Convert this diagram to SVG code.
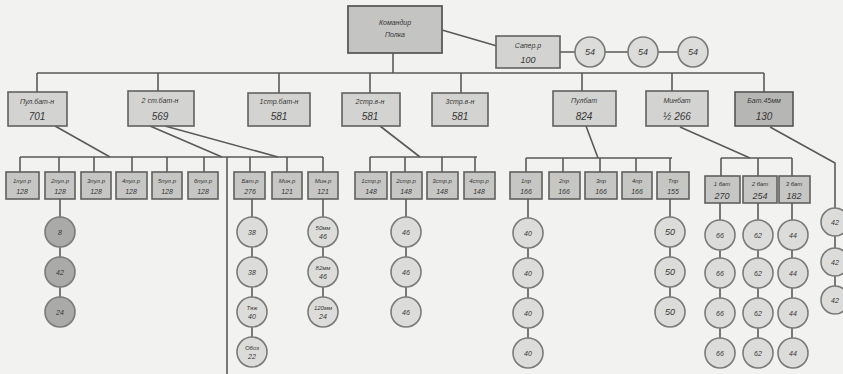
<svg xmlns="http://www.w3.org/2000/svg" width="843" height="374" viewBox="0 0 843 374">
<style>
.bg{fill:#f2f2f0}
.ln{stroke:#5a5a5a;stroke-width:1.6;fill:none}
.b1{fill:#d3d3d1;stroke:#616161;stroke-width:1.6}
.b0{fill:#c4c4c2;stroke:#5a5a5a;stroke-width:1.8}
.b2{fill:#c6c6c4;stroke:#5f5f5f;stroke-width:1.6}
.bd{fill:#b6b6b4;stroke:#555;stroke-width:1.6}
.c{fill:#dcdcda;stroke:#7a7a7a;stroke-width:1.6}
.cd{fill:#aaaaa8;stroke:#7a7a7a;stroke-width:1.6}
text{font-family:"Liberation Sans",Arial,sans-serif;fill:#363636;text-anchor:middle;font-style:italic}
.s{font-size:7px}
.m{font-size:9px}
.n{font-size:10px}
.t{font-size:6px}
</style>
<rect class="bg" x="0" y="0" width="843" height="374"/>
<g id="connectors">
<path class="ln" d="M393 53V73M37 73H764M37 73V92M158 73V91M279 73V93M370 73V93M461 73V93M582 73V91M672 73V91M764 73V92"/>
<path class="ln" d="M442 30L497 46M560 52H575M605 52H628M658 52H678"/>
<path class="ln" d="M55 126L110 157M150 126L222 157M165 126L278 157M380 126L420 157M586 126L598 158M680 127L750 158M770 127L835 163V208"/>
<path class="ln" d="M20 157H323M20 157V172M59 157V172M94 157V172M132 157V172M167 157V172M204 157V172M250 157V172M287 157V172M323 157V172M227 157V374"/>
<path class="ln" d="M370 157H477M370 157V172M405 157V172M442 157V172M475 157V172"/>
<path class="ln" d="M526 158H672M526 158V172M563 158V172M600 158V172M636 158V172M670 158V172"/>
<path class="ln" d="M721 158H792M721 158V176M758 158V176M792 158V176"/>
<path class="ln" d="M60 199V297M252 199V337M323 199V297M406 199V297M528 199V338M670 199V297M720 203V338M758 203V338M792 203V338M835 236V286"/>
</g>
<g id="n-cmd"><rect class="b0" x="348" y="6" width="94" height="47"/><text class="s" x="395" y="25">Командир</text><text class="s" x="395" y="37">Полка</text></g>
<g id="n-sap"><rect class="b1" x="496" y="36" width="64" height="32"/><text class="s" x="528" y="48">Сапер.р</text><text class="m" x="528" y="63">100</text></g>
<g id="n-s1"><circle class="c" cx="590" cy="52" r="15"/><text class="m" x="590" y="55">54</text></g>
<g id="n-s2"><circle class="c" cx="643" cy="52" r="15"/><text class="m" x="643" y="55">54</text></g>
<g id="n-s3"><circle class="c" cx="693" cy="52" r="15"/><text class="m" x="693" y="55">54</text></g>

<g id="n-b1"><rect class="b1" x="8" y="92" width="59" height="34"/><text class="s" x="37" y="104">Пул.бат-н</text><text class="n" x="37" y="120">701</text></g>
<g id="n-b2"><rect class="b1" x="128" y="91" width="66" height="35"/><text class="s" x="160" y="103">2 ст.бат-н</text><text class="n" x="160" y="120">569</text></g>
<g id="n-b3"><rect class="b1" x="248" y="93" width="62" height="33"/><text class="s" x="279" y="104">1стр.бат-н</text><text class="n" x="279" y="120">581</text></g>
<g id="n-b4"><rect class="b1" x="342" y="93" width="58" height="33"/><text class="s" x="370" y="104">2стр.в-н</text><text class="n" x="370" y="120">581</text></g>
<g id="n-b5"><rect class="b1" x="432" y="93" width="56" height="33"/><text class="s" x="460" y="104">3стр.в-н</text><text class="n" x="460" y="120">581</text></g>
<g id="n-b6"><rect class="b1" x="553" y="91" width="63" height="35"/><text class="s" x="584" y="103">Пулбат</text><text class="n" x="584" y="120">824</text></g>
<g id="n-b7"><rect class="b1" x="646" y="91" width="62" height="35"/><text class="s" x="677" y="103">Минбат</text><text class="n" x="677" y="120">½ 266</text></g>
<g id="n-b8"><rect class="bd" x="735" y="92" width="58" height="34"/><text class="s" x="764" y="103">Бат.45мм</text><text class="n" x="764" y="120">130</text></g>

<g id="n-p1"><rect class="b2" x="6" y="172" width="33" height="27"/><text class="t" x="22" y="183">1пул.р</text><text class="s" x="22" y="194">128</text></g>
<g id="n-p2"><rect class="b2" x="45" y="172" width="30" height="27"/><text class="t" x="60" y="183">2пул.р</text><text class="s" x="60" y="194">128</text></g>
<g id="n-p3"><rect class="b2" x="81" y="172" width="30" height="27"/><text class="t" x="96" y="183">3пул.р</text><text class="s" x="96" y="194">128</text></g>
<g id="n-p4"><rect class="b2" x="116" y="172" width="31" height="27"/><text class="t" x="131" y="183">4пул.р</text><text class="s" x="131" y="194">128</text></g>
<g id="n-p5"><rect class="b2" x="152" y="172" width="30" height="27"/><text class="t" x="167" y="183">5пул.р</text><text class="s" x="167" y="194">128</text></g>
<g id="n-p6"><rect class="b2" x="188" y="172" width="30" height="27"/><text class="t" x="203" y="183">6пул.р</text><text class="s" x="203" y="194">128</text></g>
<g id="n-pc1"><circle class="cd" cx="60" cy="232" r="15"/><text class="s" x="60" y="235">8</text></g>
<g id="n-pc2"><circle class="cd" cx="60" cy="272" r="15"/><text class="s" x="60" y="275">42</text></g>
<g id="n-pc3"><circle class="cd" cx="60" cy="312" r="15"/><text class="s" x="60" y="315">24</text></g>

<g id="n-q1"><rect class="b2" x="234" y="172" width="31" height="27"/><text class="t" x="250" y="183">Бат.р</text><text class="s" x="250" y="194">276</text></g>
<g id="n-q2"><rect class="b2" x="272" y="172" width="30" height="27"/><text class="t" x="287" y="183">Мин.р</text><text class="s" x="287" y="194">121</text></g>
<g id="n-q3"><rect class="b2" x="308" y="172" width="30" height="27"/><text class="t" x="323" y="183">Мин.р</text><text class="s" x="323" y="194">121</text></g>
<g id="n-qa1"><circle class="c" cx="252" cy="232" r="15"/><text class="s" x="252" y="235">38</text></g>
<g id="n-qa2"><circle class="c" cx="252" cy="272" r="15"/><text class="s" x="252" y="275">38</text></g>
<g id="n-qa3"><circle class="c" cx="252" cy="312" r="15"/><text class="t" x="252" y="310">Тяж</text><text class="s" x="252" y="319">40</text></g>
<g id="n-qa4"><circle class="c" cx="252" cy="352" r="15"/><text class="t" x="252" y="350">Обоз</text><text class="s" x="252" y="359">22</text></g>
<g id="n-qb1"><circle class="c" cx="323" cy="232" r="15"/><text class="t" x="323" y="230">50мм</text><text class="s" x="323" y="239">46</text></g>
<g id="n-qb2"><circle class="c" cx="323" cy="272" r="15"/><text class="t" x="323" y="270">82мм</text><text class="s" x="323" y="279">46</text></g>
<g id="n-qb3"><circle class="c" cx="323" cy="312" r="15"/><text class="t" x="323" y="310">120мм</text><text class="s" x="323" y="319">24</text></g>

<g id="n-r1"><rect class="b2" x="355" y="172" width="32" height="27"/><text class="t" x="371" y="183">1стр.р</text><text class="s" x="371" y="194">148</text></g>
<g id="n-r2"><rect class="b2" x="391" y="172" width="31" height="27"/><text class="t" x="406" y="183">2стр.р</text><text class="s" x="406" y="194">148</text></g>
<g id="n-r3"><rect class="b2" x="427" y="172" width="31" height="27"/><text class="t" x="442" y="183">3стр.р</text><text class="s" x="442" y="194">148</text></g>
<g id="n-r4"><rect class="b2" x="464" y="172" width="31" height="27"/><text class="t" x="479" y="183">4стр.р</text><text class="s" x="479" y="194">148</text></g>
<g id="n-rc1"><circle class="c" cx="406" cy="232" r="15"/><text class="s" x="406" y="235">46</text></g>
<g id="n-rc2"><circle class="c" cx="406" cy="272" r="15"/><text class="s" x="406" y="275">46</text></g>
<g id="n-rc3"><circle class="c" cx="406" cy="312" r="15"/><text class="s" x="406" y="315">46</text></g>

<g id="n-u1"><rect class="b2" x="510" y="172" width="32" height="27"/><text class="t" x="526" y="183">1пр</text><text class="s" x="526" y="194">166</text></g>
<g id="n-u2"><rect class="b2" x="549" y="172" width="31" height="27"/><text class="t" x="564" y="183">2пр</text><text class="s" x="564" y="194">166</text></g>
<g id="n-u3"><rect class="b2" x="585" y="172" width="32" height="27"/><text class="t" x="601" y="183">3пр</text><text class="s" x="601" y="194">166</text></g>
<g id="n-u4"><rect class="b2" x="622" y="172" width="30" height="27"/><text class="t" x="637" y="183">4пр</text><text class="s" x="637" y="194">166</text></g>
<g id="n-u5"><rect class="b2" x="657" y="172" width="32" height="27"/><text class="t" x="673" y="183">Тпр</text><text class="s" x="673" y="194">155</text></g>
<g id="n-ua1"><circle class="c" cx="528" cy="233" r="15"/><text class="s" x="528" y="236">40</text></g>
<g id="n-ua2"><circle class="c" cx="528" cy="273" r="15"/><text class="s" x="528" y="276">40</text></g>
<g id="n-ua3"><circle class="c" cx="528" cy="313" r="15"/><text class="s" x="528" y="316">40</text></g>
<g id="n-ua4"><circle class="c" cx="528" cy="353" r="15"/><text class="s" x="528" y="356">40</text></g>
<g id="n-ub1"><circle class="c" cx="670" cy="232" r="15"/><text class="m" x="670" y="235">50</text></g>
<g id="n-ub2"><circle class="c" cx="670" cy="272" r="15"/><text class="m" x="670" y="275">50</text></g>
<g id="n-ub3"><circle class="c" cx="670" cy="312" r="15"/><text class="m" x="670" y="315">50</text></g>

<g id="n-m1"><rect class="b2" x="705" y="176" width="35" height="27"/><text class="t" x="722" y="186">1 бат</text><text class="m" x="722" y="199">270</text></g>
<g id="n-m2"><rect class="b2" x="743" y="176" width="34" height="27"/><text class="t" x="760" y="186">2 бат</text><text class="m" x="760" y="199">254</text></g>
<g id="n-m3"><rect class="b2" x="779" y="176" width="31" height="27"/><text class="t" x="794" y="186">3 бат</text><text class="m" x="794" y="199">182</text></g>
<g id="n-ma1"><circle class="c" cx="720" cy="235" r="15"/><text class="s" x="720" y="238">66</text></g>
<g id="n-ma2"><circle class="c" cx="720" cy="273" r="15"/><text class="s" x="720" y="276">66</text></g>
<g id="n-ma3"><circle class="c" cx="720" cy="313" r="15"/><text class="s" x="720" y="316">66</text></g>
<g id="n-ma4"><circle class="c" cx="720" cy="353" r="15"/><text class="s" x="720" y="356">66</text></g>
<g id="n-mb1"><circle class="c" cx="758" cy="235" r="15"/><text class="s" x="758" y="238">62</text></g>
<g id="n-mb2"><circle class="c" cx="758" cy="273" r="15"/><text class="s" x="758" y="276">62</text></g>
<g id="n-mb3"><circle class="c" cx="758" cy="313" r="15"/><text class="s" x="758" y="316">62</text></g>
<g id="n-mb4"><circle class="c" cx="758" cy="353" r="15"/><text class="s" x="758" y="356">62</text></g>
<g id="n-mc1"><circle class="c" cx="793" cy="235" r="15"/><text class="s" x="793" y="238">44</text></g>
<g id="n-mc2"><circle class="c" cx="793" cy="273" r="15"/><text class="s" x="793" y="276">44</text></g>
<g id="n-mc3"><circle class="c" cx="793" cy="313" r="15"/><text class="s" x="793" y="316">44</text></g>
<g id="n-mc4"><circle class="c" cx="793" cy="353" r="15"/><text class="s" x="793" y="356">44</text></g>

<g id="n-k1"><circle class="c" cx="835" cy="222" r="14"/><text class="s" x="835" y="225">42</text></g>
<g id="n-k2"><circle class="c" cx="835" cy="262" r="14"/><text class="s" x="835" y="265">42</text></g>
<g id="n-k3"><circle class="c" cx="835" cy="300" r="14"/><text class="s" x="835" y="303">42</text></g>
</svg>
